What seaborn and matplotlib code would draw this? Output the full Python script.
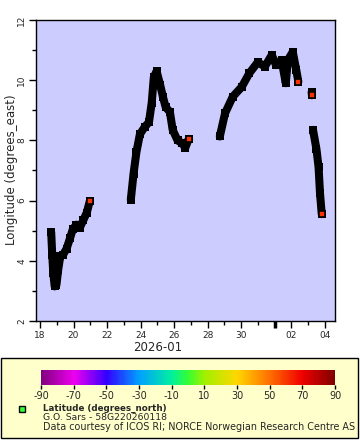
import pandas as pd
import matplotlib
matplotlib.use('Agg')
import matplotlib.pyplot as plt
import matplotlib.dates as mdates
import seaborn as sns
from matplotlib.colors import LinearSegmentedColormap, Normalize
from matplotlib.cm import ScalarMappable
from matplotlib.patches import Rectangle
from matplotlib.lines import Line2D

# ship track, one list per cruise segment (time, longitude)
seg1_time = ['2026-01-18 16:00', '2026-01-18 17:30', '2026-01-18 19:00', '2026-01-18 21:00',
             '2026-01-18 23:30', '2026-01-19 02:00', '2026-01-19 05:00', '2026-01-19 09:00',
             '2026-01-19 14:00', '2026-01-19 19:00', '2026-01-19 23:00', '2026-01-20 04:00',
             '2026-01-20 09:00', '2026-01-20 14:00', '2026-01-20 19:00', '2026-01-20 23:15']
seg1_lon = [4.95, 4.2, 3.6, 3.15, 3.2, 3.7, 4.15, 4.2, 4.4, 4.75, 5.05, 5.2, 5.1, 5.35, 5.6, 5.98]

seg2_time = ['2026-01-23 10:00', '2026-01-23 14:00', '2026-01-23 18:00', '2026-01-23 23:00',
             '2026-01-24 06:00', '2026-01-24 12:00', '2026-01-24 16:00', '2026-01-24 19:00',
             '2026-01-24 23:00', '2026-01-25 04:00', '2026-01-25 08:00', '2026-01-25 12:00',
             '2026-01-25 18:00', '2026-01-25 22:00', '2026-01-26 05:00', '2026-01-26 12:00',
             '2026-01-26 16:00', '2026-01-26 21:00']
seg2_lon = [6.02, 6.9, 7.6, 8.2, 8.45, 8.6, 9.25, 10.1, 10.3, 9.85, 9.45, 9.1, 8.95, 8.35,
            8.0, 7.9, 7.75, 8.05]

seg3_time = ['2026-01-28 17:30', '2026-01-29 01:00', '2026-01-29 12:00', '2026-01-30 01:00',
             '2026-01-30 12:00', '2026-01-31 00:00', '2026-01-31 10:00', '2026-01-31 20:00',
             '2026-02-01 02:00', '2026-02-01 10:00', '2026-02-01 16:00', '2026-02-01 19:00',
             '2026-02-02 02:00', '2026-02-02 07:00', '2026-02-02 10:00']
seg3_lon = [8.13, 8.9, 9.45, 9.78, 10.24, 10.6, 10.45, 10.84, 10.5, 10.67, 9.9, 10.67,
            10.94, 10.34, 9.95]

seg4_time = ['2026-02-03 05:00', '2026-02-03 05:30']
seg4_lon = [9.6, 9.5]

seg5_time = ['2026-02-03 07:00', '2026-02-03 12:00', '2026-02-03 15:00', '2026-02-03 17:00',
             '2026-02-03 19:30']
seg5_lon = [8.35, 7.7, 7.1, 6.25, 5.55]

# latitude at the last point of each segment (the visible coloured markers)
end_lat = [60.4, 60.3, 60.5, 60.6, 60.5]

cbar_ticks = [-90, -70, -50, -30, -10, 10, 30, 50, 70, 90]

#building the track table
frames = []
for i, (t, lon) in enumerate([(seg1_time, seg1_lon), (seg2_time, seg2_lon), (seg3_time, seg3_lon),
                              (seg4_time, seg4_lon), (seg5_time, seg5_lon)]):
    frames.append(pd.DataFrame({'time': pd.to_datetime(t), 'lon': lon, 'seg': i}))
track = pd.concat(frames, ignore_index=True)
ends = track.groupby('seg').tail(1).copy()
ends['lat'] = end_lat

#rainbow-like colour scale used for latitude
cmap = LinearSegmentedColormap.from_list('lat', [
    (0.0, '#800080'), (1/9, '#ee00ee'), (2/9, '#3300ff'), (3/9, '#00a0ff'),
    (4/9, '#00f0a0'), (0.5, '#33ff33'), (5/9, '#a0f000'), (6/9, '#ffd700'),
    (7/9, '#ff7000'), (8/9, '#f00000'), (1.0, '#800000')])
norm = Normalize(-90, 90)

sns.set_style('ticks')
plt.rcParams['font.family'] = ['DejaVu Sans']
plt.rcParams['axes.unicode_minus'] = False

fig = plt.figure(figsize=(3.6, 4.4), dpi=100)
ax = fig.add_axes([36/360, 1-321/440, 299/360, 301/440])
ax.set_facecolor('#ccccff')

sns.lineplot(data=track, x='time', y='lon', units='seg', estimator=None, sort=False,
             color='black', lw=5.8, ax=ax, legend=False)
sns.scatterplot(data=track, x='time', y='lon', color='black', marker='s', s=32,
                linewidth=0, ax=ax, legend=False)
sns.scatterplot(data=ends, x='time', y='lon', hue='lat', palette=cmap, hue_norm=(-90, 90),
                marker='s', s=20, edgecolor='black', linewidth=1.2, ax=ax, legend=False, zorder=5)

ax.set_xlim(pd.Timestamp('2026-01-17 18:15'), pd.Timestamp('2026-02-04 14:30'))
ax.set_ylim(2, 12)
ax.xaxis.set_major_locator(mdates.DayLocator(bymonthday=range(2, 31, 2)))
ax.xaxis.set_minor_locator(mdates.DayLocator())
ax.xaxis.set_major_formatter(mdates.DateFormatter('%d'))
ax.set_yticks(range(2, 13, 2))
ax.set_yticks(range(3, 12, 2), minor=True)
ax.tick_params(which='major', length=5, width=1, labelsize=6.5, pad=2, color='black')
ax.tick_params(which='minor', length=3, width=1, color='black')
ax.tick_params(axis='y', labelrotation=90)
for lab in ax.get_yticklabels():
    lab.set_va('center')
ax.set_xlabel('')
ax.set_ylabel('')
for sp in ax.spines.values():
    sp.set_color('black')
    sp.set_linewidth(1)

# month boundary marker under the axis
ax.plot([pd.Timestamp('2026-02-01'), pd.Timestamp('2026-02-01')], [0, -0.022], color='black',
        lw=2.5, transform=ax.get_xaxis_transform(), clip_on=False, solid_capstyle='butt')

fig.text(158/360, 1-347/440, '2026-01', ha='center', va='center', fontsize=8.5)
fig.text(12/360, 1-170/440, 'Longitude (degrees_east)', ha='center', va='center',
         rotation=90, fontsize=8.5)

#legend box with the colour bar
fig.add_artist(Rectangle((1/360, 2/440), 357/360, 80/440, transform=fig.transFigure,
                         facecolor='#ffffcc', edgecolor='black', lw=1, zorder=-1))
cax = fig.add_axes([41/360, 1-385/440, 294/360, 15/440])
cb = fig.colorbar(ScalarMappable(norm=norm, cmap=cmap), cax=cax, orientation='horizontal')
cb.set_ticks(cbar_ticks)
cb.outline.set_visible(False)
cax.tick_params(length=3, width=1, labelsize=7, pad=1.5, color='black')

fig.add_artist(Line2D([22/360], [1-409/440], marker='s', ms=4.5, mfc='#33ff33', mec='black',
                      mew=1, transform=fig.transFigure))
fig.text(43/360, 1-408/440, 'Latitude (degrees_north)', fontsize=6.3, fontweight='bold',
         va='center')
fig.text(43/360, 1-417.5/440, 'G.O. Sars - 58G220260118', fontsize=6.7, va='center')
fig.text(43/360, 1-427/440, 'Data courtesy of ICOS RI; NORCE Norwegian Research Centre AS',
         fontsize=6.9, va='center')

plt.savefig('out.png', dpi=100)
